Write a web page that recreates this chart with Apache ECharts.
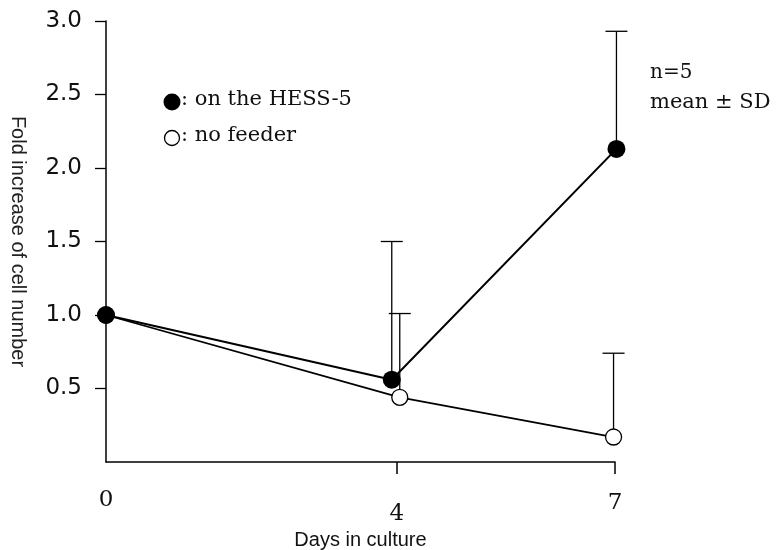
<!DOCTYPE html>
<html>
<head>
<meta charset="utf-8">
<script src="https://cdn.jsdelivr.net/npm/echarts@6/dist/echarts.min.js"></script>
<style>
html,body{margin:0;padding:0;background:#fff;}
#chart{width:782px;height:550px;}
</style>
</head>
<body>
<div id="chart"></div>
<script>
// Data
var hessDays = [0, 3.93, 7.02];
var hessMean = [1.0, 0.56, 2.13];
var hessUpper = [null, 1.50, 2.93];
var noFeederDays = [0, 4.04, 6.98];
var noFeederMean = [1.0, 0.44, 0.17];
var noFeederUpper = [null, 1.01, 0.74];
var xTickValues = [0, 4, 7];
var yTickValues = [0.5, 1.0, 1.5, 2.0, 2.5, 3.0];

function pts(xs, ys) { return xs.map(function (x, i) { return [x, ys[i]]; }); }
function errs(xs, ys, us) {
  var out = [];
  xs.forEach(function (x, i) { if (us[i] != null) out.push([x, ys[i], us[i]]); });
  return out;
}

var chart = echarts.init(document.getElementById('chart'));
var serif = 'DejaVu Serif';
var sans = 'Liberation Sans';

function errRender(params, api) {
  var x = api.value(0), m = api.value(1), u = api.value(2);
  var p0 = api.coord([x, m]);
  var p1 = api.coord([x, u]);
  var st = { stroke: '#000', lineWidth: 1.3 };
  return {
    type: 'group',
    children: [
      { type: 'line', shape: { x1: p0[0], y1: p0[1], x2: p1[0], y2: p1[1] }, style: st },
      { type: 'line', shape: { x1: p1[0] - 11, y1: p1[1], x2: p1[0] + 11, y2: p1[1] }, style: st }
    ]
  };
}

chart.setOption({
  animation: false,
  backgroundColor: '#fff',
  grid: { left: 106, top: 21, right: 167, bottom: 88, containLabel: false, outerBoundsMode: 'none' },
  xAxis: {
    type: 'value', min: 0, max: 7, interval: 1,
    name: 'Days in culture', nameLocation: 'middle', nameGap: 68, nameMoveOverlap: false,
    nameTextStyle: { fontFamily: sans, fontSize: 20, color: '#111' },
    axisLine: { lineStyle: { color: '#000', width: 1.5 } },
    axisTick: { show: true, customValues: [4, 7], length: 12, inside: false, lineStyle: { color: '#000', width: 1.5 } },
    axisLabel: {
      customValues: xTickValues, margin: 27,
      fontFamily: serif, fontSize: 23, color: '#111',
      formatter: function (v) { return v === 4 ? '{low|4}' : v === 7 ? '{mid|7}' : '' + v; },
      rich: {
        low: { fontFamily: serif, fontSize: 23, color: '#111', padding: [14, 0, 0, 0] },
        mid: { fontFamily: serif, fontSize: 23, color: '#111', padding: [3, 0, 0, 0] }
      }
    },
    splitLine: { show: false }
  },
  yAxis: {
    type: 'value', min: 0, max: 3, interval: 0.5,
    name: 'Fold increase of cell number', nameLocation: 'middle', nameRotate: -90, nameGap: 78, nameMoveOverlap: false,
    nameTextStyle: { fontFamily: sans, fontSize: 20, color: '#222' },
    axisLine: { show: true, lineStyle: { color: '#000', width: 1.5 } },
    axisTick: { show: true, customValues: yTickValues, length: 11, inside: false, lineStyle: { color: '#000', width: 1.3 } },
    axisLabel: {
      customValues: yTickValues, margin: 24,
      fontFamily: 'DejaVu Sans', fontSize: 23, color: '#111',
      formatter: function (v) { return v.toFixed(1); }
    },
    splitLine: { show: false }
  },
  graphic: [
    { type: 'circle', shape: { cx: 172, cy: 102, r: 8.5 }, style: { fill: '#000' } },
    { type: 'text', left: 181, top: 89, style: { text: ': on the HESS-5', font: '21px "DejaVu Serif"', fill: '#111' } },
    { type: 'circle', shape: { cx: 172, cy: 138, r: 7.5 }, style: { fill: '#fff', stroke: '#000', lineWidth: 1.3 } },
    { type: 'text', left: 181, top: 125, style: { text: ': no feeder', font: '21px "DejaVu Serif"', fill: '#111' } },
    { type: 'text', left: 650, top: 63, style: { text: 'n=5', font: '20px "DejaVu Serif"', fill: '#111' } },
    { type: 'text', left: 650, top: 92, style: { text: 'mean \u00B1 SD', font: '21px "DejaVu Serif"', fill: '#111' } }
  ],
  series: [
    {
      type: 'custom', renderItem: errRender, z: 1, clip: false,
      data: errs(noFeederDays, noFeederMean, noFeederUpper)
    },
    {
      type: 'custom', renderItem: errRender, z: 1, clip: false,
      data: errs(hessDays, hessMean, hessUpper)
    },
    {
      name: 'no feeder', type: 'line', z: 3, clip: false,
      data: pts(noFeederDays, noFeederMean),
      symbol: 'circle', symbolSize: 16, showAllSymbol: true,
      lineStyle: { color: '#000', width: 1.8 },
      itemStyle: { color: '#fff', borderColor: '#000', borderWidth: 1.3 }
    },
    {
      name: 'on the HESS-5', type: 'line', z: 4, clip: false,
      data: pts(hessDays, hessMean),
      symbol: 'circle', symbolSize: 18, showAllSymbol: true,
      lineStyle: { color: '#000', width: 2 },
      itemStyle: { color: '#000' }
    }
  ]
});
</script>
</body>
</html>
